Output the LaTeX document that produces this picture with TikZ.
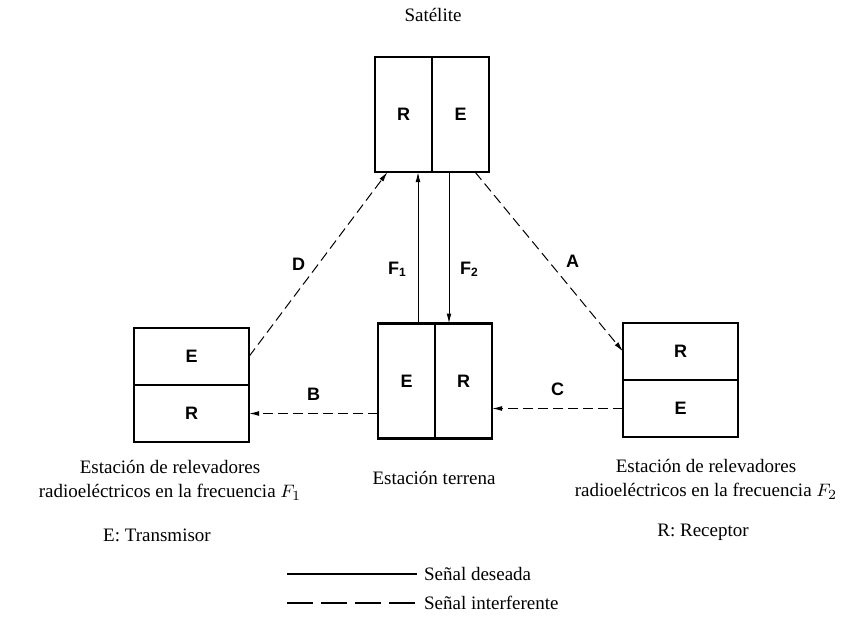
\documentclass[tikz,border=0pt]{standalone}
\usepackage{fontspec}
\setmainfont{Liberation Serif}
\setsansfont{Liberation Sans}
\usepackage{tikz}
\usetikzlibrary{positioning,arrows.meta}
\tikzstyle{half}=[rectangle, draw=black, line width=1.1pt, outer sep=0pt, inner sep=0pt, font=\sffamily\bfseries\fontsize{9}{10}\selectfont]
\tikzstyle{tall}=[half, minimum width=28.5pt, minimum height=57.5pt]
\tikzstyle{wide}=[half, minimum width=57.5pt, minimum height=28.5pt]
\tikzstyle{sig}=[line width=0.5pt]
\tikzstyle{intf}=[sig, dash pattern=on 5pt off 2.5pt]
\tikzstyle{lbl}=[font=\sffamily\bfseries\fontsize{9}{10}\selectfont]
\tikzstyle{caption}=[align=center, font=\fontsize{9.5}{12}\selectfont]
\tikzset{>={Latex[length=5pt,width=2.4pt]}}

\begin{document}
\begin{tikzpicture}[x=0.5pt,y=-0.5pt]
    \useasboundingbox (0,0) rectangle (860,616);

        % satelite
        \node(satR)[tall] at (403.5,114.5) {R};
        \node(satE)[tall, right=0pt of satR]{E};
        \node(satName)[caption] at (433,15) {Satélite};

        % estacion terrena
        \node(gndE)[tall] at (406.5,381) {E};
        \node(gndR)[tall, right=0pt of gndE]{R};

        % relevadores F1 y F2
        \node(relE)[wide] at (191.5,356.5) {E};
        \node(relR)[wide, below=0pt of relE]{R};
        \node(rel2R)[wide] at (680.5,351.5) {R};
        \node(rel2E)[wide, below=0pt of rel2R]{E};

        % senales deseadas
        \draw [sig,->] ([xshift=5.75pt]gndE.north) -- ([xshift=5.75pt]gndE.north |- satR.south)
            node[lbl, pos=0.36, left=2pt]{F\textsubscript{1}};
        \draw [sig,->] ([xshift=-7.25pt]gndR.north |- satE.south) -- ([xshift=-7.25pt]gndR.north)
            node[lbl, pos=0.64, right=2pt]{F\textsubscript{2}};

        % senales interferentes
        \draw [intf,->] (relE.east) -- ([xshift=-8pt]satR.south) node[lbl, midway, left=3pt]{D};
        \draw [intf,->] ([xshift=7.25pt]satE.south) -- (rel2R.west) node[lbl, midway, right=5pt]{A};
        \draw [intf,->] (relR.east -| gndE.west) -- (relR.east) node[lbl, midway, above=3pt]{B};
        \draw [intf,->] (rel2E.west) -- (rel2E.west -| gndR.east) node[lbl, midway, above=3pt]{C};

        \node(capF1)[caption] at (170,480) {Estación de relevadores\\radioeléctricos en la frecuencia $F_1$};
        \node(capGnd)[caption] at (434,478) {Estación terrena};
        \node(capF2)[caption] at (706,479) {Estación de relevadores\\radioeléctricos en la frecuencia $F_2$};
        \node(keyE)[caption] at (157,535) {E: Transmisor};
        \node(keyR)[caption] at (703,532) {R: Receptor};

        % leyenda
        \node(legSol)[caption, anchor=west] at (417,574) {Señal deseada};
        \node(legDash)[caption, anchor=west] at (417,603) {Señal interferente};
        \coordinate(solStart) at (287,574);
        \coordinate(dashStart) at (287,603);
        \draw [line width=0.9pt] (solStart) -- (legSol.west);
        \draw [line width=0.9pt, dash pattern=on 13pt off 4pt] (dashStart) -- (legDash.west);

\end{tikzpicture}
\end{document}
